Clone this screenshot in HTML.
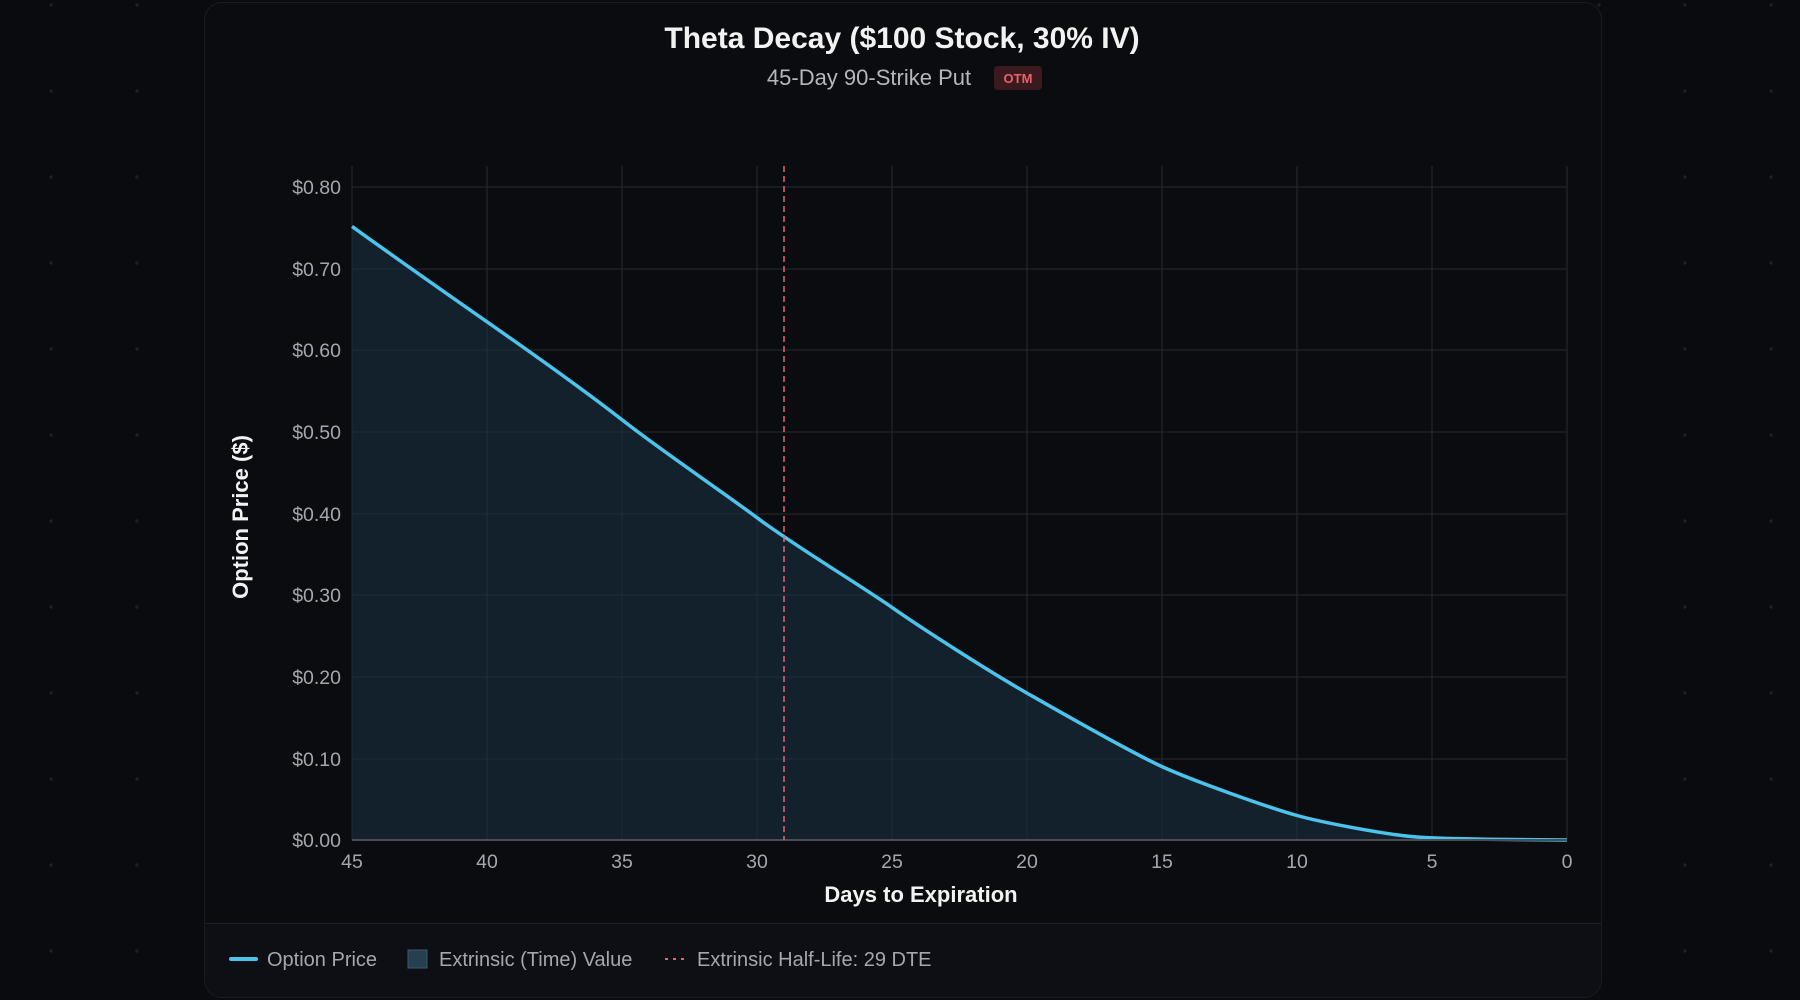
<!DOCTYPE html>
<html><head><style>
body{margin:0;width:1800px;height:1000px;background:#0a0b0f;overflow:hidden;font-family:"Liberation Sans",sans-serif;
background-image:radial-gradient(circle,#1c1f27 1.5px,transparent 2px);background-size:86px 86px;background-position:8px 48px}
.card{position:absolute;left:204px;top:2px;width:1396px;height:994px;background:#0b0c10;border:1px solid #1a1c22;border-radius:18px;overflow:hidden}
.leg{position:absolute;left:0;top:920px;width:100%;height:80px;background:#0e0f14;border-top:1px solid #1d1f26}
</style></head><body>
<div class="card"><div class="leg"></div></div>
<svg width="1800" height="1000" style="position:absolute;left:0;top:0" font-family="Liberation Sans, sans-serif">
<text x="902" y="48" fill="#f2f2f2" font-size="30" font-weight="bold" text-anchor="middle">Theta Decay ($100 Stock, 30% IV)</text>
<text x="869" y="85" fill="#b5b7bd" font-size="22" text-anchor="middle">45-Day 90-Strike Put</text>
<rect x="994" y="66" width="48" height="24" rx="4" fill="#3a1a1e"/>
<text x="1018" y="83" fill="#e8626a" font-size="13" font-weight="bold" text-anchor="middle">OTM</text>
<g stroke="#272a31" stroke-width="1">
<line x1="352" y1="187" x2="1567" y2="187"/><line x1="352" y1="269" x2="1567" y2="269"/><line x1="352" y1="350" x2="1567" y2="350"/><line x1="352" y1="432" x2="1567" y2="432"/><line x1="352" y1="514" x2="1567" y2="514"/><line x1="352" y1="595" x2="1567" y2="595"/><line x1="352" y1="677" x2="1567" y2="677"/><line x1="352" y1="759" x2="1567" y2="759"/>
<line x1="487" y1="166" x2="487" y2="840"/><line x1="622" y1="166" x2="622" y2="840"/><line x1="757" y1="166" x2="757" y2="840"/><line x1="892" y1="166" x2="892" y2="840"/><line x1="1027" y1="166" x2="1027" y2="840"/><line x1="1162" y1="166" x2="1162" y2="840"/><line x1="1297" y1="166" x2="1297" y2="840"/><line x1="1432" y1="166" x2="1432" y2="840"/><line x1="1567" y1="166" x2="1567" y2="840"/>
<line x1="352" y1="166" x2="352" y2="840"/>
</g>
<path d="M352,226.4 C400,261 450,296 487,321.8 S580,387 622,419.8 S720,490 757,517.7 S860,585 892,607.4 S990,672 1027,693.1 S1130,752 1162,766.6 S1270,808 1297,815.5 S1380,833 1405,835.9 S1470,839 1486,839.2 L1567,840 L352,840Z" fill="#18303f" fill-opacity="0.6"/>
<path d="M352,226.4 C400,261 450,296 487,321.8 S580,387 622,419.8 S720,490 757,517.7 S860,585 892,607.4 S990,672 1027,693.1 S1130,752 1162,766.6 S1270,808 1297,815.5 S1380,833 1405,835.9 S1470,839 1486,839.2 L1567,840" fill="none" stroke="#4cc3ec" stroke-width="3.5" stroke-linejoin="round"/>
<line x1="352" y1="840" x2="1567" y2="840" stroke="#4a4e57" stroke-width="2"/>
<line x1="784" y1="166" x2="784" y2="840" stroke="#e06a6e" stroke-width="1.5" stroke-dasharray="6,4"/>
<g fill="#a4a7ae" font-size="19.5" text-anchor="end">
<text x="341" y="194">$0.80</text><text x="341" y="276">$0.70</text><text x="341" y="357">$0.60</text><text x="341" y="439">$0.50</text><text x="341" y="521">$0.40</text><text x="341" y="602">$0.30</text><text x="341" y="684">$0.20</text><text x="341" y="766">$0.10</text><text x="341" y="847">$0.00</text>
</g>
<g fill="#a4a7ae" font-size="19.5" text-anchor="middle">
<text x="352" y="868">45</text><text x="487" y="868">40</text><text x="622" y="868">35</text><text x="757" y="868">30</text><text x="892" y="868">25</text><text x="1027" y="868">20</text><text x="1162" y="868">15</text><text x="1297" y="868">10</text><text x="1432" y="868">5</text><text x="1567" y="868">0</text>
</g>
<text x="921" y="902" fill="#f2f2f2" font-size="22" font-weight="bold" text-anchor="middle">Days to Expiration</text>
<text transform="translate(248,517) rotate(-90)" fill="#f2f2f2" font-size="22" font-weight="bold" text-anchor="middle">Option Price ($)</text>
<line x1="231" y1="959" x2="256" y2="959" stroke="#4cc3ec" stroke-width="4" stroke-linecap="round"/>
<text x="267" y="966" fill="#a4a7ae" font-size="20">Option Price</text>
<rect x="408" y="950" width="19" height="18" fill="#27404f" stroke="#3b5a6b"/>
<text x="439" y="966" fill="#a4a7ae" font-size="20">Extrinsic (Time) Value</text>
<line x1="665" y1="959" x2="686" y2="959" stroke="#e06a6e" stroke-width="2" stroke-dasharray="3,5"/>
<text x="697" y="966" fill="#a4a7ae" font-size="20">Extrinsic Half-Life: 29 DTE</text>
</svg>
</body></html>
